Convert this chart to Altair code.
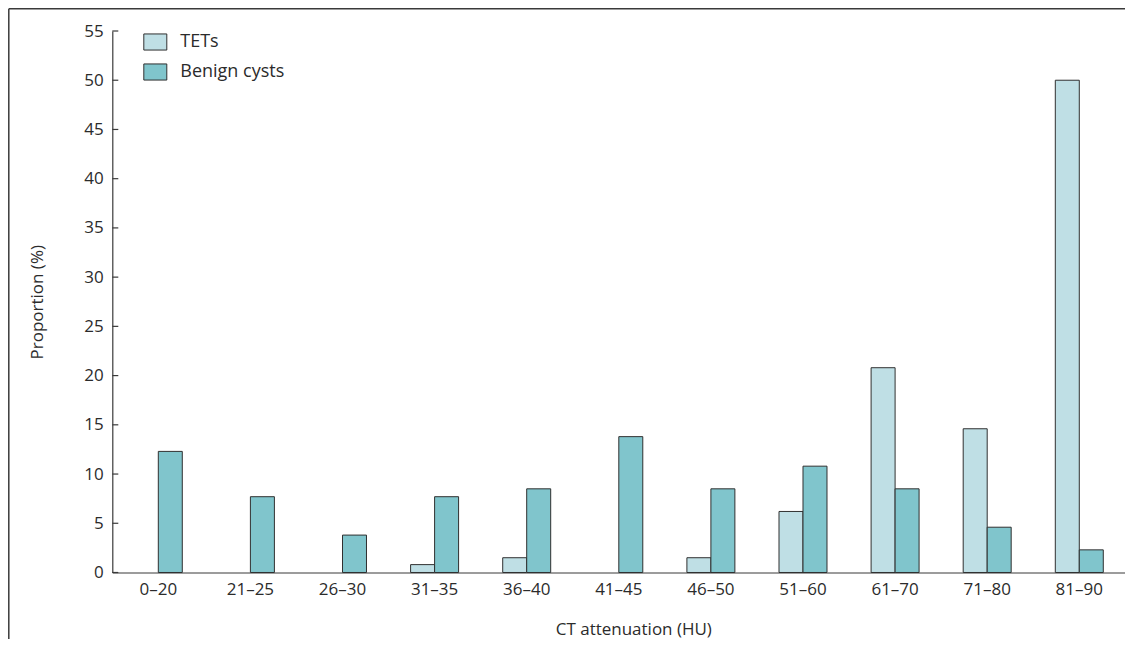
import altair as alt
import pandas as pd

categories = ["0–20", "21–25", "26–30", "31–35", "36–40", "41–45",
              "46–50", "51–60", "61–70", "71–80", "81–90"]
tets = [0, 0, 0, 0.8, 1.5, 0, 1.5, 6.2, 20.8, 14.6, 50.0]
benign = [12.3, 7.7, 3.8, 7.7, 8.5, 13.8, 8.5, 10.8, 8.5, 4.6, 2.3]
series = ["TETs", "Benign cysts"]
colors = ["#bfdfe5", "#80c5cc"]
y_ticks = list(range(0, 60, 5))

rows = []
for c, t, b in zip(categories, tets, benign):
    rows.append({"cat": c, "series": "TETs", "value": t})
    rows.append({"cat": c, "series": "Benign cysts", "value": b})
df = pd.DataFrame(rows)
df = df[df["value"] > 0]

FONT = "Open Sans"
TXT = "#2b2b2b"
LINE = "#3a3a3a"

bars = alt.Chart(df).mark_bar(stroke="#2f2f2f", strokeWidth=1).encode(
    x=alt.X("cat:N", sort=categories,
            scale=alt.Scale(paddingInner=0.479, paddingOuter=0.239),
            axis=alt.Axis(title="CT attenuation (HU)", labelAngle=0, ticks=False,
                          labelPadding=9, domainColor=LINE, domainWidth=1.2,
                          labelFontSize=17, labelColor=TXT, labelFont=FONT,
                          titleFont=FONT, titleFontSize=17, titleColor=TXT,
                          titleFontWeight="normal", titleX=521, titleY=57,
                          titleBaseline="middle", titleAlign="center")),
    xOffset=alt.XOffset("series:N", sort=series,
                        scale=alt.Scale(paddingInner=0, paddingOuter=0)),
    y=alt.Y("value:Q", scale=alt.Scale(domain=[0, 55], nice=False),
            axis=alt.Axis(title="Proportion (%)", values=y_ticks, ticks=False,
                          grid=False, labelPadding=9, domainColor=LINE,
                          domainWidth=1.2, labelFontSize=17, labelColor=TXT,
                          labelFont=FONT, titleFont=FONT, titleFontSize=17,
                          titleColor=TXT, titleFontWeight="normal",
                          titleX=-75, titleY=270.75, titleAngle=-90,
                          titleAlign="center", titleBaseline="middle")),
    color=alt.Color("series:N", sort=series,
                    scale=alt.Scale(domain=series, range=colors),
                    legend=alt.Legend(title=None, orient="none", legendX=31,
                                      legendY=-1, padding=0,
                                      symbolType="M-1,-0.7L1,-0.7L1,0.7L-1,0.7Z",
                                      symbolSize=529, symbolStrokeColor="#2f2f2f",
                                      symbolStrokeWidth=1, symbolOpacity=1,
                                      rowPadding=7, labelOffset=13,
                                      labelFontSize=18, labelFont=FONT,
                                      labelColor=TXT)),
)

tick_df = pd.DataFrame({"v": y_ticks})
ticks = alt.Chart(tick_df).mark_rule(color=LINE, strokeWidth=1.2).encode(
    y="v:Q", x=alt.value(0), x2=alt.value(6)
)

frame_top = alt.Chart(tick_df.head(1)).mark_rule(color=LINE, strokeWidth=1.5).encode(
    x=alt.value(-103.5), x2=alt.value(1030), y=alt.value(-22.3)
)
frame_left = alt.Chart(tick_df.head(1)).mark_rule(color=LINE, strokeWidth=1.5).encode(
    x=alt.value(-103.5), y=alt.value(-22.3), y2=alt.value(620)
)

chart = alt.layer(bars, ticks, frame_top, frame_left).properties(
    width=1013, height=541.5,
    padding={"left": 104.3, "top": 23, "right": 0, "bottom": 66},
    autosize=alt.AutoSizeParams(type="none"),
    background="white",
).configure_view(stroke=None)

chart.save("out.html", embed_options={"renderer": "svg", "actions": False})
